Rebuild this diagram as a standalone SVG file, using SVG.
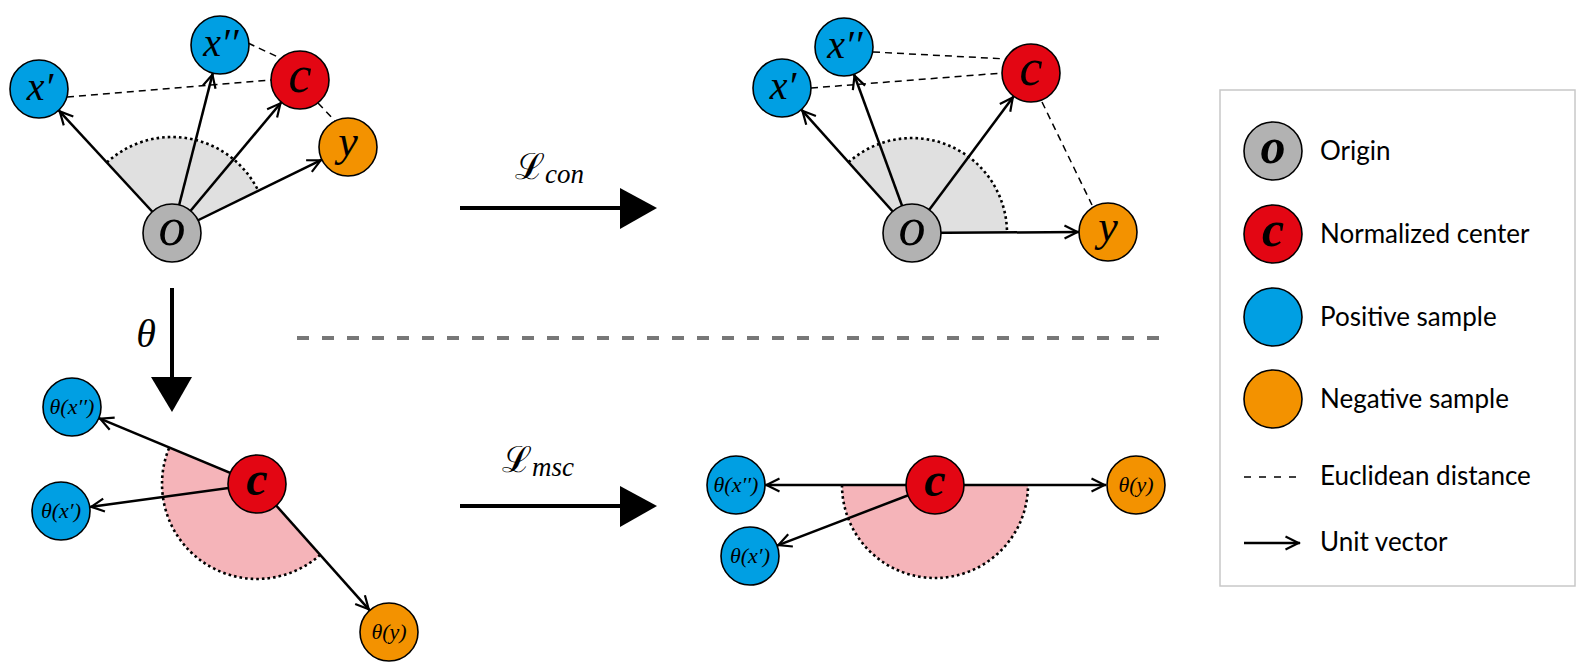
<svg xmlns="http://www.w3.org/2000/svg" width="1588" height="666" viewBox="0 0 1588 666">
<style>
.n{stroke:#000;stroke-width:1.6}
.o{fill:#b2b2b2}.c{fill:#e30613}.p{fill:#009fe3}.q{fill:#f39200}
.m{font-family:'Liberation Serif','DejaVu Serif',serif;font-style:italic;fill:#000;text-anchor:middle}
.b{font-weight:bold}
.vec{stroke:#000;stroke-width:2.5;fill:none;marker-end:url(#arr)}
.eu{stroke:#000;stroke-width:1.5;stroke-dasharray:7 5;fill:none}
.arc{fill:none;stroke:#000;stroke-width:2.6;stroke-dasharray:2.6 3}
.big{stroke:#000;stroke-width:4;fill:none}
.lg{font-family:Lato,'Open Sans',sans-serif;font-size:26px;fill:#000}
.sl{font-family:'DejaVu Serif','Liberation Serif',serif;fill:#000}
</style>
<defs>
<marker id="arr" markerUnits="userSpaceOnUse" viewBox="-16 -9 20 18" markerWidth="20" markerHeight="18" refX="1.5" refY="0" orient="auto">
<path d="M-13,-6.5 L0,0 L-13,6.5" fill="none" stroke="#000" stroke-width="2.2"/>
</marker>
</defs>
<rect width="1588" height="666" fill="#fff"/>

<g id="sectors">
<path d="M172,233 L106.9,162.5 A96,96 0 0 1 258.3,190.9 Z" fill="#e0e0e0"/>
<path class="arc" d="M106.9,162.5 A96,96 0 0 1 258.3,190.9"/>
<path d="M912,233 L848.6,162.3 A95,95 0 0 1 1007,232.5 Z" fill="#e0e0e0"/>
<path class="arc" d="M848.6,162.3 A95,95 0 0 1 1007,232.5"/>
<path d="M257,484 L320.2,554.9 A95,95 0 0 1 169.3,447.5 Z" fill="#f5b4b9"/>
<path class="arc" d="M320.2,554.9 A95,95 0 0 1 169.3,447.5"/>
<path d="M842,485 A93,93 0 0 0 1028,485 Z" fill="#f5b4b9"/>
<path class="arc" d="M842,485 A93,93 0 0 0 1028,485"/>
</g>

<g id="connectors">
<path class="eu" d="M67,97 L271,80"/>
<path class="eu" d="M248,43 L280,58"/>
<path class="eu" d="M318,103 L335,121"/>
<path class="eu" d="M873,52 L1007,59"/>
<path class="eu" d="M811,88 L1003,73"/>
<path class="eu" d="M1042,102 L1092,205"/>
<path class="vec" d="M172,233 L58.7,110.3"/>
<path class="vec" d="M172,233 L212.8,73.1"/>
<path class="vec" d="M172,233 L281.4,102.2"/>
<path class="vec" d="M172,233 L322,159.7"/>
<path class="vec" d="M912,233 L801.4,109.6"/>
<path class="vec" d="M912,233 L854,74.2"/>
<path class="vec" d="M912,233 L1013.7,96.3"/>
<path class="vec" d="M912,233 L1079,232"/>
<path class="vec" d="M257,484 L98.8,418.1"/>
<path class="vec" d="M257,484 L89.7,507"/>
<path class="vec" d="M257,484 L369.7,610.4"/>
<path class="vec" d="M935,485 L765,485"/>
<path class="vec" d="M935,485 L1106,485"/>
<path class="vec" d="M935,485 L777,545.6"/>
<path class="big" d="M460,208 L622,208"/>
<path d="M620,188 L657,208 L620,229 Z" fill="#000"/>
<path class="big" d="M460,506 L622,506"/>
<path d="M620,486 L657,506 L620,527 Z" fill="#000"/>
<path class="big" d="M172,288 L172,380"/>
<path d="M151,377 L192,377 L172,412 Z" fill="#000"/>
<path d="M297,338 L1159,338" stroke="#777" stroke-width="4" stroke-dasharray="12 13" fill="none"/>
</g>

<g id="labels">
<text class="sl" x="515" y="179" font-size="36">ℒ<tspan font-family="Liberation Serif, serif" font-style="italic" font-size="27" dy="4">con</tspan></text>
<text class="sl" x="502" y="472" font-size="36">ℒ<tspan font-family="Liberation Serif, serif" font-style="italic" font-size="27" dy="4">msc</tspan></text>
<text class="m" x="146" y="347" font-size="40">θ</text>
</g>

<g id="tl-o"><circle class="n o" cx="172" cy="233" r="29"/><text class="m" x="172" y="245" font-size="54">o</text></g>
<g id="tl-x1"><circle class="n p" cx="39" cy="89" r="29"/><text class="m" x="40" y="100" font-size="40">x′</text></g>
<g id="tl-x2"><circle class="n p" cx="220" cy="45" r="29"/><text class="m" x="221" y="56" font-size="40">x′′</text></g>
<g id="tl-c"><circle class="n c" cx="300" cy="80" r="29"/><text class="m" x="300" y="92" font-size="52">c</text></g>
<g id="tl-y"><circle class="n q" cx="348" cy="147" r="29"/><text class="m" x="348" y="156" font-size="44">y</text></g>

<g id="tr-o"><circle class="n o" cx="912" cy="233" r="29"/><text class="m" x="912" y="245" font-size="54">o</text></g>
<g id="tr-x1"><circle class="n p" cx="782" cy="88" r="29"/><text class="m" x="783" y="99" font-size="40">x′</text></g>
<g id="tr-x2"><circle class="n p" cx="844" cy="47" r="29"/><text class="m" x="845" y="58" font-size="40">x′′</text></g>
<g id="tr-c"><circle class="n c" cx="1031" cy="73" r="29"/><text class="m" x="1031" y="85" font-size="52">c</text></g>
<g id="tr-y"><circle class="n q" cx="1108" cy="232" r="29"/><text class="m" x="1108" y="241" font-size="44">y</text></g>

<g id="bl-c"><circle class="n c" cx="257" cy="484" r="29"/><text class="m b" x="257" y="495" font-size="48">c</text></g>
<g id="bl-x2"><circle class="n p" cx="72" cy="407" r="29"/><text class="m" x="72" y="414" font-size="22">θ(x′′)</text></g>
<g id="bl-x1"><circle class="n p" cx="61" cy="511" r="29"/><text class="m" x="61" y="518" font-size="22">θ(x′)</text></g>
<g id="bl-y"><circle class="n q" cx="389" cy="632" r="29"/><text class="m" x="389" y="639" font-size="22">θ(y)</text></g>

<g id="br-c"><circle class="n c" cx="935" cy="485" r="29"/><text class="m b" x="935" y="496" font-size="48">c</text></g>
<g id="br-x2"><circle class="n p" cx="736" cy="485" r="29"/><text class="m" x="736" y="492" font-size="22">θ(x′′)</text></g>
<g id="br-x1"><circle class="n p" cx="750" cy="556" r="29"/><text class="m" x="750" y="563" font-size="22">θ(x′)</text></g>
<g id="br-y"><circle class="n q" cx="1136" cy="485" r="29"/><text class="m" x="1136" y="492" font-size="22">θ(y)</text></g>

<g id="legend">
<rect x="1220" y="90" width="355" height="496" fill="#fff" stroke="#c8c8c8" stroke-width="1.5"/>
<circle class="n o" cx="1273" cy="151" r="29"/><text class="m b" x="1273" y="163" font-size="50">o</text>
<text class="lg" x="1320" y="160">Origin</text>
<circle class="n c" cx="1273" cy="234" r="29"/><text class="m b" x="1273" y="246" font-size="50">c</text>
<text class="lg" x="1320" y="243">Normalized center</text>
<circle class="n p" cx="1273" cy="317" r="29"/>
<text class="lg" x="1320" y="326">Positive sample</text>
<circle class="n q" cx="1273" cy="399" r="29"/>
<text class="lg" x="1320" y="408">Negative sample</text>
<path d="M1244,477 L1300,477" stroke="#000" stroke-width="1.5" stroke-dasharray="7 8"/>
<text class="lg" x="1320" y="485">Euclidean distance</text>
<path class="vec" d="M1244,543 L1300,543"/>
<text class="lg" x="1320" y="551">Unit vector</text>
</g>
</svg>
